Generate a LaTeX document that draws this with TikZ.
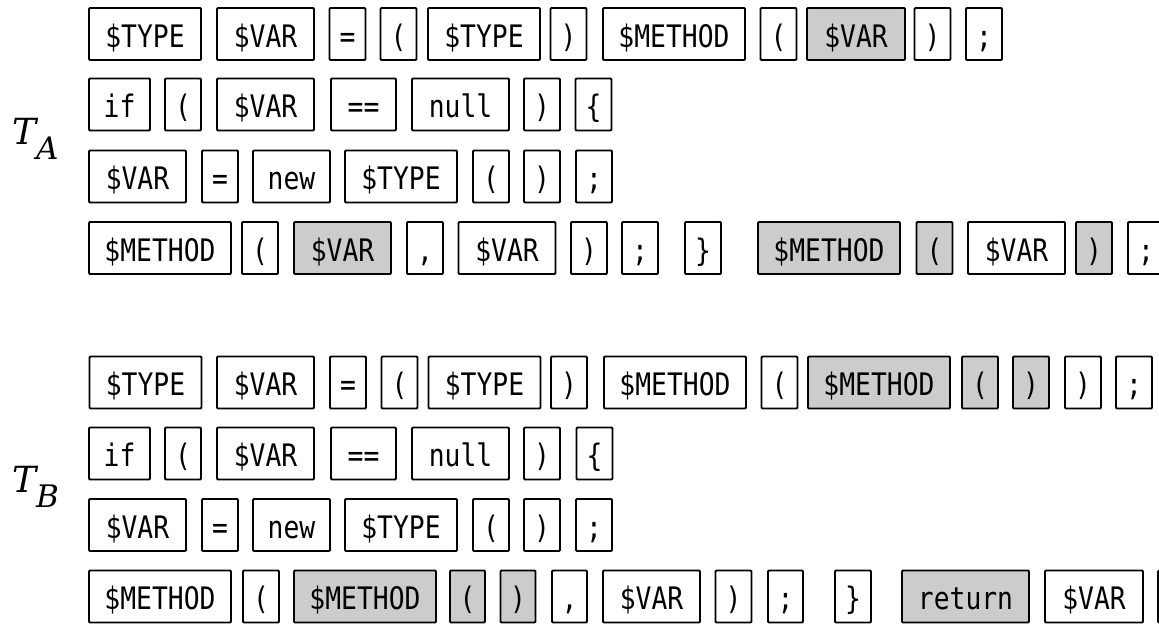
\documentclass[tikz,border=0pt]{standalone}
\usepackage{fontspec}
\newfontfamily\tokfont{DejaVu Sans Mono}[FakeStretch=0.85]
\newfontfamily\lblfont{DejaVu Serif}
\definecolor{hlgray}{HTML}{CCCCCC}
\newcommand\tlabel[1]{\lblfont\itshape\fontsize{36}{36}\selectfont T\raisebox{-15pt}{\fontsize{31}{31}\selectfont #1}}
\tikzset{
  tok/.style={draw=black, line width=1.8pt, rounded corners=1pt, fill=white,
    minimum height=52pt, inner sep=0pt, outer sep=0pt,
    font=\fontsize{31}{31}\selectfont\tokfont, text height=26pt, text depth=0pt},
  hl/.style={tok, fill=hlgray},
  lbl/.style={inner sep=0pt, anchor=base west}
}
\begin{document}
\begin{tikzpicture}[x=1pt,y=-1pt]
\useasboundingbox (0,0) rectangle (1159,624);
% labels
\node[lbl] (ta) at (12,144) {\tlabel{A}};
\node[lbl] (tb) at (12,492) {\tlabel{B}};
% ---- T_A row 1
\node[tok, minimum width=112] (a11) at (145,34) {\$TYPE};
\node[tok, minimum width=97]  (a12) at (265.5,34) {\$VAR};
\node[tok, minimum width=36]  (a13) at (347.5,34) {=};
\node[tok, minimum width=36]  (a14) at (398.5,34) {(};
\node[tok, minimum width=112] (a15) at (484,34) {\$TYPE};
\node[tok, minimum width=36]  (a16) at (568.5,34) {)};
\node[tok, minimum width=142] (a17) at (674,34) {\$METHOD};
\node[tok, minimum width=36]  (a18) at (778.5,34) {(};
\node[hl,  minimum width=98]  (a19) at (856,34) {\$VAR};
\node[tok, minimum width=36]  (a110) at (932.5,34) {)};
\node[tok, minimum width=36]  (a111) at (984,34) {;};
% ---- T_A row 2
\node[tok, minimum width=61]  (a21) at (119.5,104.5) {if};
\node[tok, minimum width=36]  (a22) at (183,104.5) {(};
\node[tok, minimum width=97]  (a23) at (265.5,104.5) {\$VAR};
\node[tok, minimum width=65]  (a24) at (363.5,104.5) {==};
\node[tok, minimum width=97]  (a25) at (460.5,104.5) {null};
\node[tok, minimum width=36]  (a26) at (542,104.5) {)};
\node[tok, minimum width=36]  (a27) at (593.5,104.5) {\{};
% ---- T_A row 3
\node[tok, minimum width=97]  (a31) at (137.5,176.5) {\$VAR};
\node[tok, minimum width=36]  (a32) at (220,176.5) {=};
\node[tok, minimum width=77]  (a33) at (291.5,176.5) {new};
\node[tok, minimum width=112] (a34) at (401,176.5) {\$TYPE};
\node[tok, minimum width=36]  (a35) at (491,176.5) {(};
\node[tok, minimum width=36]  (a36) at (542,176.5) {)};
\node[tok, minimum width=36]  (a37) at (594,176.5) {;};
% ---- T_A row 4
\node[tok, minimum width=142] (a41) at (160,248) {\$METHOD};
\node[tok, minimum width=36]  (a42) at (260,248) {(};
\node[hl,  minimum width=97]  (a43) at (342.5,248) {\$VAR};
\node[tok, minimum width=36]  (a44) at (425,248) {,};
\node[tok, minimum width=97]  (a45) at (507,248) {\$VAR};
\node[tok, minimum width=36]  (a46) at (589,248) {)};
\node[tok, minimum width=36]  (a47) at (640,248) {;};
\node[tok, minimum width=36]  (a48) at (703,248) {\}};
\node[hl,  minimum width=142] (a49) at (829,248) {\$METHOD};
\node[hl,  minimum width=36]  (a410) at (934.5,248) {(};
\node[tok, minimum width=97]  (a411) at (1016.5,248) {\$VAR};
\node[hl,  minimum width=36]  (a412) at (1094,248) {)};
\node[tok, minimum width=36]  (a413) at (1146,248) {;};
% ---- T_B row 1
\node[tok, minimum width=112] (b11) at (145.5,382.5) {\$TYPE};
\node[tok, minimum width=97]  (b12) at (265.5,382.5) {\$VAR};
\node[tok, minimum width=36]  (b13) at (348,382.5) {=};
\node[tok, minimum width=36]  (b14) at (399.5,382.5) {(};
\node[tok, minimum width=112] (b15) at (484.5,382.5) {\$TYPE};
\node[tok, minimum width=36]  (b16) at (569,382.5) {)};
\node[tok, minimum width=142] (b17) at (675,382.5) {\$METHOD};
\node[tok, minimum width=36]  (b18) at (779.5,382.5) {(};
\node[hl,  minimum width=142] (b19) at (879,382.5) {\$METHOD};
\node[hl,  minimum width=36]  (b110) at (980,382.5) {(};
\node[hl,  minimum width=36]  (b111) at (1031,382.5) {)};
\node[tok, minimum width=36]  (b112) at (1083,382.5) {)};
\node[tok, minimum width=36]  (b113) at (1134,382.5) {;};
% ---- T_B row 2
\node[tok, minimum width=61]  (b21) at (119.5,453.5) {if};
\node[tok, minimum width=36]  (b22) at (183,453.5) {(};
\node[tok, minimum width=97]  (b23) at (265.5,453.5) {\$VAR};
\node[tok, minimum width=65]  (b24) at (363.5,453.5) {==};
\node[tok, minimum width=97]  (b25) at (460.5,453.5) {null};
\node[tok, minimum width=36]  (b26) at (542,453.5) {)};
\node[tok, minimum width=36]  (b27) at (594.5,453.5) {\{};
% ---- T_B row 3
\node[tok, minimum width=97]  (b31) at (137.5,525) {\$VAR};
\node[tok, minimum width=36]  (b32) at (220,525) {=};
\node[tok, minimum width=77]  (b33) at (291.5,525) {new};
\node[tok, minimum width=112] (b34) at (401,525) {\$TYPE};
\node[tok, minimum width=36]  (b35) at (491,525) {(};
\node[tok, minimum width=36]  (b36) at (542,525) {)};
\node[tok, minimum width=36]  (b37) at (594,525) {;};
% ---- T_B row 4
\node[tok, minimum width=142] (b41) at (160,596.5) {\$METHOD};
\node[tok, minimum width=36]  (b42) at (261,596.5) {(};
\node[hl,  minimum width=142] (b43) at (365,596.5) {\$METHOD};
\node[hl,  minimum width=35]  (b44) at (467.5,596.5) {(};
\node[hl,  minimum width=35]  (b45) at (518,596.5) {)};
\node[tok, minimum width=35]  (b46) at (569.5,596.5) {,};
\node[tok, minimum width=97]  (b47) at (651.5,596.5) {\$VAR};
\node[tok, minimum width=36]  (b48) at (733.5,596.5) {)};
\node[tok, minimum width=35]  (b49) at (785.5,596.5) {;};
\node[tok, minimum width=36]  (b410) at (853,596.5) {\}};
\node[hl,  minimum width=127] (b411) at (965.5,596.5) {return};
\node[tok, minimum width=98]  (b412) at (1094,596.5) {\$VAR};
\node[tok, minimum width=36]  (b413) at (1176,596.5) {};
\end{tikzpicture}
\end{document}
